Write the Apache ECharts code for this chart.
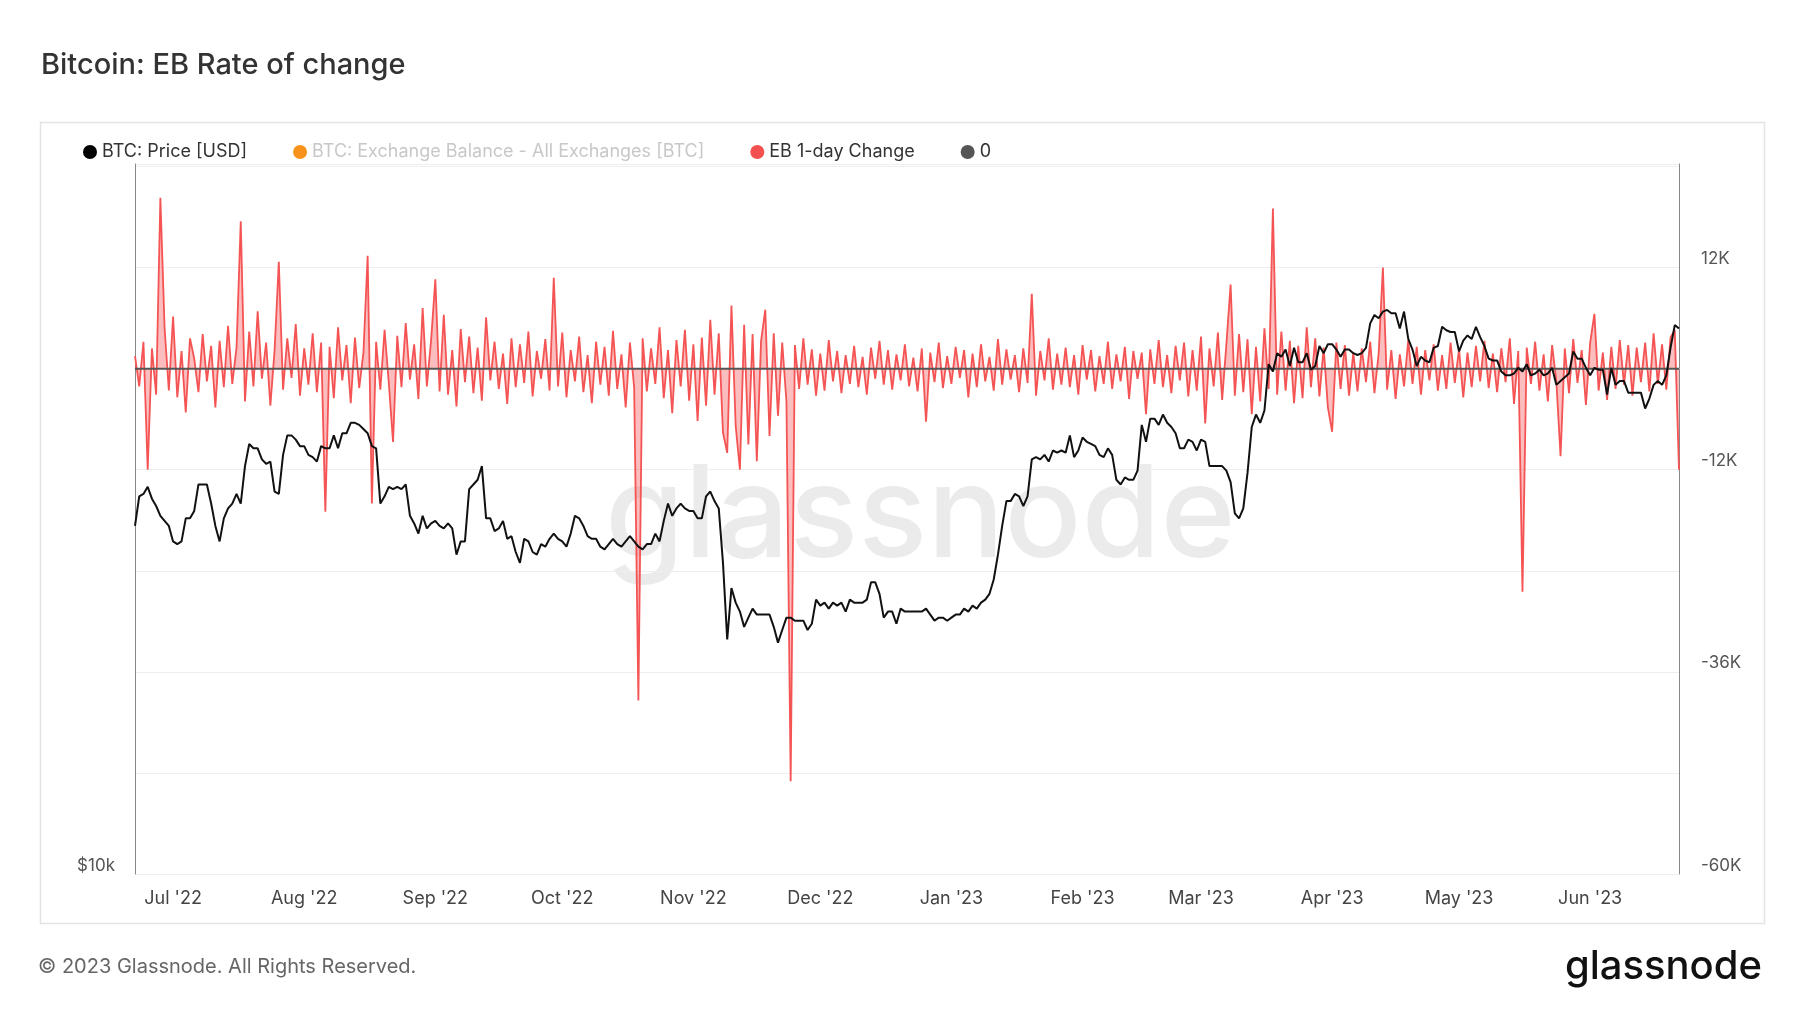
<!DOCTYPE html>
<html><head><meta charset="utf-8">
<script src="https://cdn.jsdelivr.net/npm/echarts@6/dist/echarts.min.js"></script>
<style>html,body{margin:0;padding:0;background:#fff}#c{width:1800px;height:1013px}</style>
</head><body><div id="c"></div>
<script>
const startDate = '2022-06-22';
const btcPrice = [
19.9,21.1,21.2,21.5,21.0,20.7,20.3,20.1,19.9,
19.3,19.2,19.3,20.2,20.2,20.5,21.6,21.6,21.6,20.8,19.9,19.3,20.2,20.6,20.8,21.2,20.8,22.4,23.4,23.2,23.2,22.7,22.5,22.6,21.3,21.2,22.9,23.8,23.8,23.6,23.3,
23.3,22.9,22.8,22.6,23.3,23.2,23.2,23.8,23.2,23.9,23.9,24.4,24.4,24.3,24.1,23.9,23.3,23.2,20.8,21.1,21.5,21.4,21.5,21.4,21.6,20.3,20.0,19.6,20.3,19.8,20.0,
20.1,19.9,19.8,20.0,19.8,18.8,19.3,19.3,21.4,21.6,21.8,22.4,20.2,20.2,19.7,19.8,20.1,19.4,19.5,18.9,18.5,19.4,19.3,18.9,18.8,19.2,19.1,19.4,19.6,19.4,
19.3,19.1,19.6,20.3,20.2,19.9,19.5,19.4,19.4,19.1,19.0,19.2,19.4,19.2,19.1,19.3,19.5,19.3,19.1,19.0,19.2,19.2,19.6,19.3,20.1,20.8,20.3,20.6,20.8,20.6,20.5,
20.5,20.2,20.2,21.1,21.3,20.9,20.6,18.5,15.9,17.6,17.1,16.8,16.3,16.6,16.9,16.7,16.7,16.7,16.7,16.3,15.8,16.2,16.6,16.6,16.5,16.5,16.5,16.2,16.4,17.2,
17.0,17.1,16.9,17.1,17.0,17.1,16.8,17.2,17.1,17.1,17.1,17.2,17.8,17.8,17.4,16.6,16.8,16.8,16.4,16.9,16.8,16.8,16.8,16.8,16.8,16.9,16.7,16.5,16.6,16.6,16.5,
16.6,16.7,16.7,16.9,16.8,17.0,16.9,17.1,17.2,17.4,17.9,18.8,19.9,20.9,20.9,21.2,21.1,20.7,21.1,22.7,22.8,22.7,22.9,22.6,23.1,23.0,23.1,23.0,23.8,22.8,23.1,
23.7,23.5,23.4,23.3,22.9,22.8,23.2,22.9,21.8,21.6,21.9,21.8,21.8,22.2,24.3,23.5,24.6,24.6,24.3,24.8,24.4,24.2,23.9,23.2,23.2,23.6,23.5,23.1,
23.6,23.5,22.4,22.4,22.4,22.4,22.2,21.7,20.4,20.2,20.6,22.1,24.2,24.8,24.4,25.0,27.4,27.0,28.0,27.8,28.2,27.3,28.3,27.5,27.5,28.0,27.1,27.3,28.4,28.0,28.5,
28.5,28.2,27.8,28.2,28.2,28.0,27.9,28.0,28.3,29.7,30.2,30.0,30.4,30.5,30.3,30.3,29.4,30.4,28.8,28.2,27.3,27.8,27.6,27.5,28.3,28.4,29.5,29.3,29.2,29.2,
28.1,28.7,29.0,28.8,29.5,28.9,28.4,27.7,27.6,27.6,27.0,26.8,26.8,26.9,27.2,27.0,27.4,26.8,26.9,27.1,26.8,26.9,27.2,26.3,26.5,26.7,26.9,28.1,27.7,27.7,27.2,
26.8,27.2,27.1,27.1,25.8,27.2,26.3,26.5,26.5,25.9,25.9,25.9,25.9,25.1,25.6,26.3,26.5,26.3,26.8,28.3,29.6,29.4
];
const ebChangeK = [
1.5,-2.1,3.2,-12,2.4,-3.1,20.3,4.8,-2.6,6.2,
-3.4,2.1,-5.2,3.6,1.2,-2.8,4.1,-1.5,2.7,-4.6,
3.3,-2.2,5.1,-1.8,2.5,17.5,-3.9,4.4,-2.1,6.8,
-1.2,3.1,-4.4,2.2,12.7,-2.5,3.6,-1.1,5.3,-3.2,
2.4,-1.9,4.2,-2.8,3.1,-17,2.6,-3.5,4.9,-1.4,
2.8,-4.1,3.7,-2.3,1.9,13.4,-16,3.2,-2.5,4.6,
-1.7,-8.7,3.9,-2.2,5.4,-1.3,2.9,-3.6,7.2,-2.1,
3.4,10.6,-2.7,6.4,-3.1,2.2,-4.5,4.7,-1.6,3.8,
-2.9,2.5,-3.8,6.1,-1.4,3.2,-2.4,1.8,-4.2,3.6,
-2.2,2.9,-1.7,4.4,-3.3,2.1,-1.2,3.5,-2.6,10.8,
-2.1,4.3,-3.4,2.2,-1.5,3.8,-2.8,1.6,-4.1,3.2,
-1.9,2.6,-3.2,4.5,-2.4,1.7,-4.6,3.1,-2.2,-39.4,
3.6,-2.7,2.4,-1.8,4.9,-3.5,2.2,-5.3,3.4,-2.1,
4.6,-3.8,2.9,-6.2,3.7,-4.4,5.8,-3.1,4.2,-7.6,
-10,7.5,-6.8,-12,5.2,-9,4.1,-11,3.3,7,
-8,4.2,-5.6,3.1,-3.9,-49,2.8,-2.4,3.6,-1.9,
2.3,-3.2,1.8,-2.6,3.4,-1.5,2.1,-2.9,1.6,-1.8,
2.7,-2.2,1.4,-3.1,2.5,-1.2,3.3,-1.9,2.2,-2.5,
1.7,-1.4,2.9,-2.1,1.3,-2.7,2.4,-6.3,1.9,-1.6,
3.1,-2.3,1.5,-1.8,2.6,-1.1,2.2,-3.4,1.8,-2.2,
2.9,-1.5,1.4,-2.6,3.5,-1.9,2.3,-1.3,1.6,-2.8,
2.4,-1.7,8.9,-3.2,2.1,-1.4,3.6,-2.5,1.8,-1.9,
2.5,-2.2,1.6,-3.1,2.8,-1.3,2.2,-2.7,1.5,-1.8,
3.2,-2.4,1.7,-1.5,2.6,-3.6,2.1,-1.2,1.9,-5.4,
2.3,-1.8,3.4,-2.2,1.6,-2.9,2.7,-1.4,3.1,-3.3,
2.2,-2.6,3.8,-6.5,2.4,-2.1,4.3,-3.7,2.9,10,
-3.2,4.1,-2.8,3.5,-5.4,2.6,-3.9,4.8,-2.4,19,
-3.1,4.4,-2.6,3.3,-4.1,2.7,-3.5,4.9,-2.2,3.6,
-3.3,2.5,-4.6,-7.5,3.1,-2.4,2.8,-3.2,1.9,-2.7,
2.4,-1.6,3.2,-2.9,1.8,12,-2.5,2.2,-3.6,1.7,
-2.1,3.4,-1.8,2.6,-3.1,2.2,-1.4,2.9,-2.6,1.6,
-2.4,3.1,-1.7,2.3,-3.4,1.9,-2.2,2.7,-1.5,3.3,
-2.3,1.8,-2.8,2.4,-1.6,3.6,-4.2,2.1,-26.5,2.5,
-1.8,3.2,-2.6,1.7,-3.9,2.8,-1.5,-10.4,2.4,-2.9,
3.5,-1.7,2.2,-4.3,3.1,6.5,-2.6,1.9,-3.7,2.6,
-2.4,3.4,-1.9,2.8,-3.2,2.5,-1.6,3.1,-2.7,4.2,
-1.8,2.9,-2.5,3.7,4.6,-12
];
const rightTicksK = [-60,-36,-12,12];
const monthNames = ['Jan','Feb','Mar','Apr','May','Jun','Jul','Aug','Sep','Oct','Nov','Dec'];

const t0 = Date.parse(startDate + 'T00:00:00Z');
const day = 86400000;
const priceData = btcPrice.map((v,i)=>[t0+i*day, v*1000]);
const ebData = ebChangeK.map((v,i)=>[t0+i*day, v]);
const zeroData = btcPrice.map((v,i)=>[t0+i*day, 0]);

const chart = echarts.init(document.getElementById('c'));
const F = 'Inter, "Noto Sans", sans-serif';
chart.setOption({
  animation:false,
  textStyle:{fontFamily:F},
  title:{text:'Bitcoin: EB Rate of change',left:36,top:46,textStyle:{fontFamily:F,fontSize:29,fontWeight:500,color:'#333'}},
  legend:{left:78,top:138,icon:'circle',itemWidth:14,itemHeight:14,itemGap:46,
    textStyle:{fontFamily:F,fontSize:18,color:'#333'},
    data:['BTC: Price [USD]',{name:'BTC: Exchange Balance - All Exchanges [BTC]',textStyle:{color:'#c8c8c8'}},'EB 1-day Change','0']},
  grid:{left:135,right:121,top:164,bottom:139},
  xAxis:{type:'time',min:t0,max:t0+365*day,
    splitNumber:12,
    axisLine:{show:true,lineStyle:{color:'#ddd'}},axisTick:{show:false},splitLine:{show:false},
    axisLabel:{fontFamily:F,fontSize:18,color:'#444',margin:16,hideOverlap:false,
      formatter:function(v){const d=new Date(v);if(d.getUTCDate()!==1)return '';return monthNames[d.getUTCMonth()]+" '"+String(d.getUTCFullYear()).slice(2);}}},
  yAxis:[
    {type:'log',min:10000,max:40700,position:'left',
      axisLine:{show:true,lineStyle:{color:'#888'}},axisTick:{show:false},splitLine:{show:false},
      axisLabel:{fontFamily:F,fontSize:17,color:'#555',showMaxLabel:false,verticalAlign:'bottom',margin:20,
        formatter:function(v){return Math.abs(v-10000)<1?'$10k':'';}}},
    {type:'value',min:-60,max:24.3,interval:12,position:'right',
      axisLine:{show:true,lineStyle:{color:'#888'}},axisTick:{show:false},
      splitLine:{show:true,lineStyle:{color:'#eee'}},
      axisLabel:{fontFamily:F,fontSize:17,color:'#555',margin:22,verticalAlign:'bottom',showMaxLabel:false,
        formatter:function(v){return rightTicksK.indexOf(v)>=0?v+'K':'';}}}
  ],
  graphic:[
    {type:'rect',left:38,top:120,shape:{width:1724,height:801},style:{fill:'none',stroke:'#e4e4e4',lineWidth:1.5},silent:true,z:-1},
    {type:'text',left:605,top:455,style:{text:'glassnode',font:'500 128px '+F,fill:'rgba(0,0,0,0.08)'},z:0,silent:true},
    {type:'text',left:38,top:957,style:{text:'© 2023 Glassnode. All Rights Reserved.',font:'20px '+F,fill:'#666'}},
    {type:'text',right:38,top:947,style:{text:'glassnode',font:'500 40px '+F,fill:'#111'}}
  ],
  series:[
    {name:'BTC: Price [USD]',type:'line',yAxisIndex:0,data:priceData,showSymbol:false,lineStyle:{color:'#111',width:2},itemStyle:{color:'#000'},z:5},
    {name:'BTC: Exchange Balance - All Exchanges [BTC]',type:'line',yAxisIndex:1,data:[],itemStyle:{color:'#f7931a'}},
    {name:'EB 1-day Change',type:'line',yAxisIndex:1,data:ebData,showSymbol:false,lineStyle:{color:'#f55454',width:1.8},itemStyle:{color:'#f45050'},areaStyle:{color:'rgba(245,84,84,0.55)',origin:0},z:3},
    {name:'0',type:'line',yAxisIndex:1,data:zeroData,showSymbol:false,lineStyle:{color:'#555',width:2},itemStyle:{color:'#555'},z:4}
  ]
});
</script></body></html>
